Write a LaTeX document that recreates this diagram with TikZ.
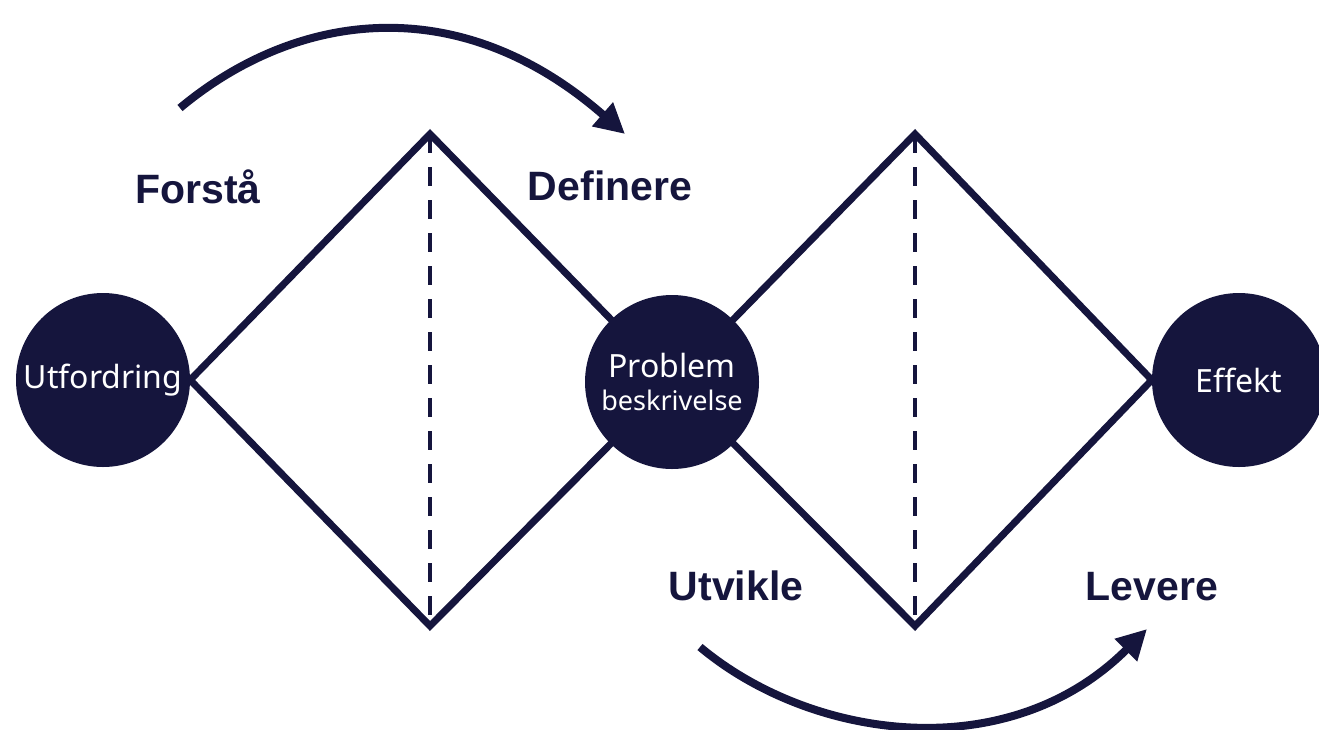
\documentclass[tikz,border=0pt]{standalone}
\usepackage{fontspec}
\setmainfont{Noto Sans}
\newfontfamily\labfont{Liberation Sans}
\usetikzlibrary{arrows.meta,backgrounds}
\definecolor{navy}{HTML}{15153D}
\tikzset{
  circ/.style={circle, fill=navy, draw=none, minimum size=174pt, inner sep=0pt, text=white, font=\fontsize{32}{36}\selectfont},
  edge/.style={draw=navy, line width=7pt, line join=miter},
  midline/.style={draw=navy, line width=4pt, dash pattern=on 19pt off 14pt},
  flow/.style={draw=navy, line width=8pt, -{Triangle[length=30pt,width=30pt]}},
  phase/.style={text=navy, font=\labfont\bfseries\fontsize{41}{48}\selectfont, anchor=base}
}
\begin{document}
\begin{tikzpicture}[x=1pt,y=-1pt]
\useasboundingbox (0,0) rectangle (1319,729);
\clip (0,0) rectangle (1319,729);
% circles
\node[circ] (u) at (103,380) {Utfordring};
\node[circ, align=center] (p) at (672,382) {Problem\\[-3pt]{\fontsize{27}{30}\selectfont beskrivelse}};
\node[circ] (e) at (1239,380) {Effekt};
% diamond vertices
\coordinate (t1) at (430,134);
\coordinate (b1) at (430,626);
\coordinate (t2) at (915,134);
\coordinate (b2) at (915,626);
\begin{scope}[on background layer]
\draw[edge] (u.east) -- (t1) -- (p.center) -- (b1) -- cycle;
\draw[edge] (p.center) -- (t2) -- (e.west) -- (b2) -- cycle;
\draw[midline] (t1) -- (b1);
\draw[midline] (t2) -- (b2);
\end{scope}
% labels
\node[phase] (l1) at (198,203) {Forstå};
\node[phase] (l2) at (610,200) {Definere};
\node[phase] (l3) at (736,600) {Utvikle};
\node[phase] (l4) at (1152,600) {Levere};
% arrows
\coordinate (a1s) at (180,108);
\coordinate (a1e) at (625,134);
\coordinate (a2s) at (700,647);
\coordinate (a2e) at (1147,629);
\draw[flow] (a1s) .. controls (295,12) and (458,-12) .. (a1e);
\draw[flow] (a2s) .. controls (811,740) and (1008,768) .. (a2e);
\end{tikzpicture}
\end{document}
